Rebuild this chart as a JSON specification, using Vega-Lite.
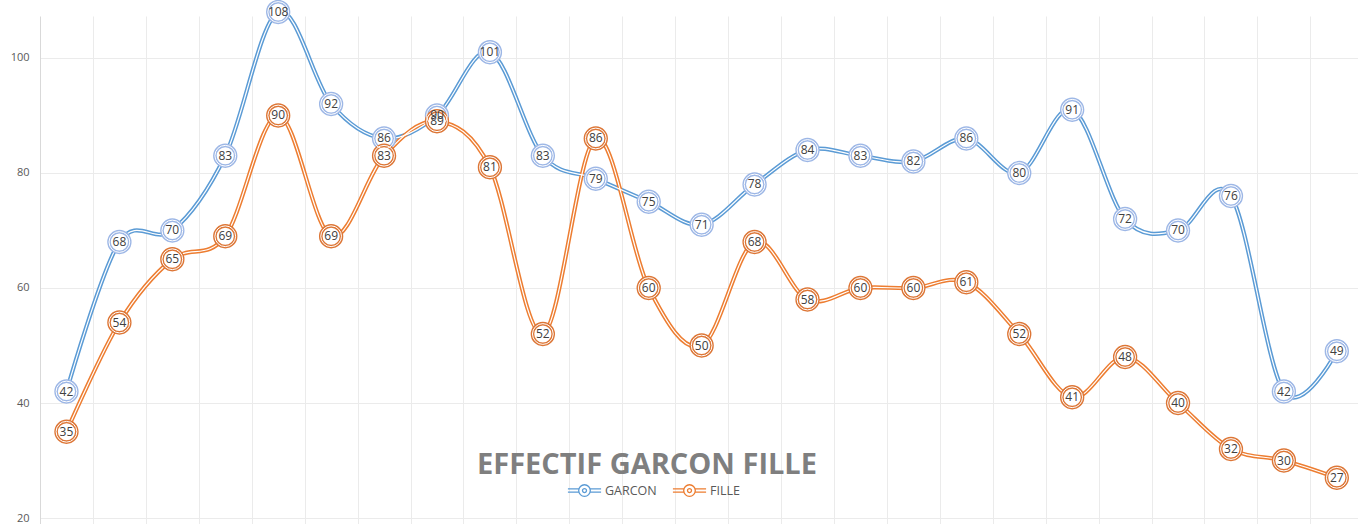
{
  "$schema": "https://vega.github.io/schema/vega-lite/v6.json",
  "autosize": {"type": "none"},
  "padding": {"left": 40, "top": 16, "right": 0, "bottom": 0},
  "width": 1318,
  "height": 508,
  "background": "white",
  "title": {
    "text": "EFFECTIF GARCON FILLE",
    "orient": "bottom",
    "frame": "group",
    "anchor": "middle",
    "offset": -50,
    "baseline": "alphabetic",
    "dx": -52,
    "font": "Open Sans",
    "fontSize": 29,
    "fontWeight": "bold",
    "color": "#7F7F7F"
  },
  "config": {
    "view": {"stroke": null},
    "axis": {"gridColor": "#EBEBEB", "gridWidth": 1}
  },
  "data": {
    "values": [
      {"idx": 1, "serie": "GARCON", "value": 42}, {"idx": 2, "serie": "GARCON", "value": 68},
      {"idx": 3, "serie": "GARCON", "value": 70}, {"idx": 4, "serie": "GARCON", "value": 83},
      {"idx": 5, "serie": "GARCON", "value": 108}, {"idx": 6, "serie": "GARCON", "value": 92},
      {"idx": 7, "serie": "GARCON", "value": 86}, {"idx": 8, "serie": "GARCON", "value": 90},
      {"idx": 9, "serie": "GARCON", "value": 101}, {"idx": 10, "serie": "GARCON", "value": 83},
      {"idx": 11, "serie": "GARCON", "value": 79}, {"idx": 12, "serie": "GARCON", "value": 75},
      {"idx": 13, "serie": "GARCON", "value": 71}, {"idx": 14, "serie": "GARCON", "value": 78},
      {"idx": 15, "serie": "GARCON", "value": 84}, {"idx": 16, "serie": "GARCON", "value": 83},
      {"idx": 17, "serie": "GARCON", "value": 82}, {"idx": 18, "serie": "GARCON", "value": 86},
      {"idx": 19, "serie": "GARCON", "value": 80}, {"idx": 20, "serie": "GARCON", "value": 91},
      {"idx": 21, "serie": "GARCON", "value": 72}, {"idx": 22, "serie": "GARCON", "value": 70},
      {"idx": 23, "serie": "GARCON", "value": 76}, {"idx": 24, "serie": "GARCON", "value": 42},
      {"idx": 25, "serie": "GARCON", "value": 49},
      {"idx": 1, "serie": "FILLE", "value": 35}, {"idx": 2, "serie": "FILLE", "value": 54},
      {"idx": 3, "serie": "FILLE", "value": 65}, {"idx": 4, "serie": "FILLE", "value": 69},
      {"idx": 5, "serie": "FILLE", "value": 90}, {"idx": 6, "serie": "FILLE", "value": 69},
      {"idx": 7, "serie": "FILLE", "value": 83}, {"idx": 8, "serie": "FILLE", "value": 89},
      {"idx": 9, "serie": "FILLE", "value": 81}, {"idx": 10, "serie": "FILLE", "value": 52},
      {"idx": 11, "serie": "FILLE", "value": 86}, {"idx": 12, "serie": "FILLE", "value": 60},
      {"idx": 13, "serie": "FILLE", "value": 50}, {"idx": 14, "serie": "FILLE", "value": 68},
      {"idx": 15, "serie": "FILLE", "value": 58}, {"idx": 16, "serie": "FILLE", "value": 60},
      {"idx": 17, "serie": "FILLE", "value": 60}, {"idx": 18, "serie": "FILLE", "value": 61},
      {"idx": 19, "serie": "FILLE", "value": 52}, {"idx": 20, "serie": "FILLE", "value": 41},
      {"idx": 21, "serie": "FILLE", "value": 48}, {"idx": 22, "serie": "FILLE", "value": 40},
      {"idx": 23, "serie": "FILLE", "value": 32}, {"idx": 24, "serie": "FILLE", "value": 30},
      {"idx": 25, "serie": "FILLE", "value": 27}
    ]
  },
  "encoding": {
    "x": {
      "field": "idx",
      "type": "quantitative",
      "scale": {"domain": [0.5, 25.4], "nice": false, "zero": false},
      "axis": {
        "title": null,
        "labels": false,
        "ticks": false,
        "domain": false,
        "grid": true,
        "values": [1.5, 2.5, 3.5, 4.5, 5.5, 6.5, 7.5, 8.5, 9.5, 10.5, 11.5, 12.5, 13.5, 14.5, 15.5, 16.5, 17.5, 18.5, 19.5, 20.5, 21.5, 22.5, 23.5, 24.5]
      }
    },
    "y": {
      "field": "value",
      "type": "quantitative",
      "scale": {"domain": [18.96, 107.3], "nice": false, "zero": false},
      "axis": {
        "title": null,
        "values": [20, 40, 60, 80, 100],
        "ticks": false,
        "domain": true,
        "domainColor": "#D9D9D9",
        "labelPadding": 11,
        "labelFont": "Open Sans",
        "labelFontSize": 11,
        "labelColor": "#595959",
        "grid": true
      }
    }
  },
  "layer": [
    {
      "mark": {"type": "line", "interpolate": "cardinal", "tension": 0, "strokeWidth": 4.2, "clip": false},
      "encoding": {
        "color": {
          "field": "serie",
          "type": "nominal",
          "scale": {"domain": ["GARCON", "FILLE"], "range": ["#5B9BD5", "#ED7D31"]},
          "legend": {
            "title": null,
            "orient": "none",
            "legendX": 527,
            "legendY": 457,
            "direction": "horizontal",
            "symbolType": "M-1,-0.1H-0.35M-1,0.1H-0.35M0.35,-0.1H1M0.35,0.1H1M-0.35,0A0.35,0.35 0 1,0 0.35,0A0.35,0.35 0 1,0 -0.35,0M-0.12,0A0.12,0.12 0 1,0 0.12,0A0.12,0.12 0 1,0 -0.12,0",
            "symbolSize": 1100,
            "symbolStrokeWidth": 1.3,
            "labelFont": "Open Sans",
            "labelFontSize": 12.5,
            "labelColor": "#595959",
            "labelOffset": 3,
            "columnPadding": 13
          }
        }
      }
    },
    {
      "mark": {"type": "line", "interpolate": "cardinal", "tension": 0, "strokeWidth": 1.2, "color": "white", "clip": false},
      "encoding": {"detail": {"field": "serie", "type": "nominal"}}
    },
    {
      "mark": {"type": "point", "shape": "circle", "filled": false, "fill": "white", "fillOpacity": 1, "size": 430, "strokeWidth": 3.6, "opacity": 1, "clip": false},
      "encoding": {
        "stroke": {
          "field": "serie",
          "type": "nominal",
          "scale": {"domain": ["GARCON", "FILLE"], "range": ["#9DB7E6", "#DD7636"]},
          "legend": null
        }
      }
    },
    {
      "mark": {"type": "point", "shape": "circle", "filled": false, "size": 430, "strokeWidth": 1, "stroke": "white", "opacity": 1, "clip": false},
      "encoding": {"detail": {"field": "serie", "type": "nominal"}}
    },
    {
      "mark": {"type": "text", "font": "Open Sans", "fontSize": 12, "color": "#404040", "baseline": "middle", "align": "center", "clip": false},
      "encoding": {"text": {"field": "value", "type": "quantitative"}}
    }
  ]
}
